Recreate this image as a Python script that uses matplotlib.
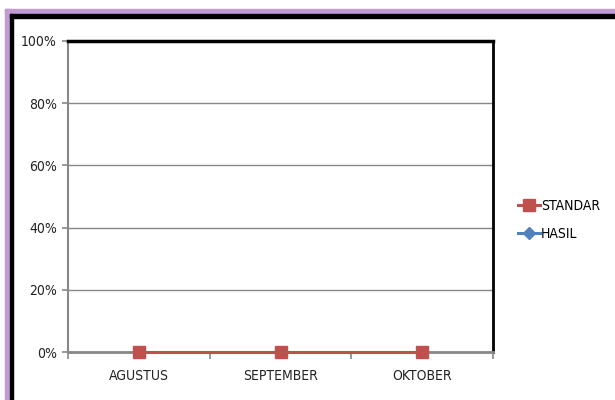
import matplotlib.pyplot as plt
from matplotlib.patches import Rectangle
from matplotlib.ticker import FixedLocator, PercentFormatter

plt.rcParams['font.family'] = ['DejaVu Sans']
plt.rcParams['font.stretch'] = 'condensed'

# data
bulan = ["AGUSTUS", "SEPTEMBER", "OKTOBER"]
standar = [0, 0, 0]
hasil = [0, 0, 0]
y_ticks = [0, 20, 40, 60, 80, 100]

W, H = 615, 400
fig = plt.figure(figsize=(W / 100, H / 100), dpi=100)

# bingkai ungu + hitam
def px_rect(x0, y0, x1, y1, color):
    fig.patches.append(Rectangle((x0 / W, 1 - y1 / H), (x1 - x0) / W, (y1 - y0) / H,
                                 transform=fig.transFigure, color=color, zorder=0))

px_rect(5, 9, W, 14, "#C39BD3")
px_rect(5, 9, 10, H, "#C39BD3")
px_rect(10, 14, W, 18, "black")
px_rect(10, 14, 13, H, "black")

ax = fig.add_axes([68 / W, 1 - 352 / H, (493 - 68) / W, (352 - 41) / H])

x = list(range(len(bulan)))
ax.plot(x, hasil, color="#4F81BD", lw=2.2, marker="D", ms=6, label="HASIL", clip_on=False, zorder=3)
ax.plot(x, standar, color="#C0504D", lw=2.2, marker="s", ms=9, label="STANDAR", clip_on=False, zorder=4)

ax.set_xlim(-0.5, 2.5)
ax.set_ylim(0, 100)
ax.set_yticks(y_ticks)
ax.yaxis.set_major_formatter(PercentFormatter(decimals=0))
ax.set_xticks(x)
ax.set_xticklabels(bulan)
ax.xaxis.set_minor_locator(FixedLocator([-0.5, 0.5, 1.5, 2.5]))
ax.tick_params(axis="x", which="major", length=0, pad=12, labelsize=10, colors="#222222")
ax.tick_params(axis="x", which="minor", length=5, color="#888888", width=1.2, direction="out")
ax.tick_params(axis="y", length=4, color="#888888", width=1.2, labelsize=10, colors="#222222", pad=4)

ax.grid(axis="y", color="#888888", lw=1)
ax.set_axisbelow(True)

ax.spines["top"].set_color("black")
ax.spines["top"].set_linewidth(2.5)
ax.spines["right"].set_color("black")
ax.spines["right"].set_linewidth(2)
ax.spines["left"].set_color("#888888")
ax.spines["left"].set_linewidth(1.5)
ax.spines["bottom"].set_color("#888888")
ax.spines["bottom"].set_linewidth(2)

handles, labels = ax.get_legend_handles_labels()
fig.legend(handles[::-1], labels[::-1], loc="center left", bbox_to_anchor=(512 / W, 1 - 220 / H),
           frameon=False, fontsize=10, handlelength=1.6, handletextpad=0.1, labelspacing=1.0,
           borderaxespad=0)

fig.savefig("out.png", dpi=100)
